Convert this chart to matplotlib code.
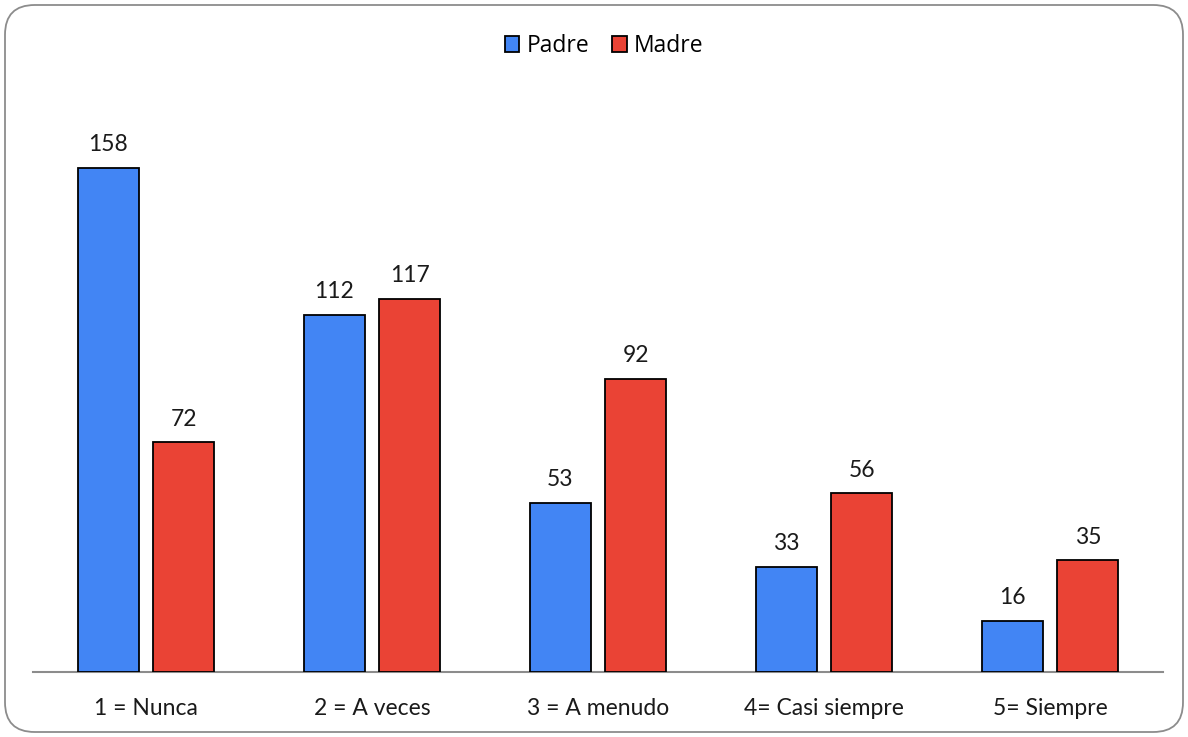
import numpy as np
import matplotlib
matplotlib.use('Agg')
import matplotlib.pyplot as plt
from matplotlib.patches import FancyBboxPatch, Patch

# Data:
categories = ['1 = Nunca', '2 = A veces', '3 = A menudo', '4= Casi siempre', '5= Siempre']
padre = [158, 112, 53, 33, 16]
madre = [72, 117, 92, 56, 35]

# Style:
Color_padre = "#4285F4"
Color_madre = "#EA4335"
Color_axis = "#8C8C8C"
plt.rcParams['font.family'] = ['Lato', 'DejaVu Sans']

W, H = 1188, 737
fig = plt.figure(figsize=(W/100, H/100), dpi=100)
ax = fig.add_axes([33/W, (H-672)/H, (1163-33)/W, (672-90)/H])

x = np.arange(len(categories))
w = 0.27
off = 0.168
b1 = ax.bar(x-off, padre, w, color=Color_padre, edgecolor='black', linewidth=1.3, zorder=3)
b2 = ax.bar(x+off, madre, w, color=Color_madre, edgecolor='black', linewidth=1.3, zorder=3)
for bars in (b1, b2):
    ax.bar_label(bars, padding=9, fontsize=16.5, color='#1a1a1a')

ax.set_xlim(-0.5, len(categories)-0.5)
ax.set_ylim(0, 582/3.19)
ax.set_yticks([])
ax.set_xticks(x)
ax.set_xticklabels(categories, fontsize=16.5, color='#1a1a1a')
ax.tick_params(axis='x', length=0, pad=19)
for s in ['top', 'right', 'left']:
    ax.spines[s].set_visible(False)
ax.spines['bottom'].set_color(Color_axis)
ax.spines['bottom'].set_linewidth(1.5)
ax.set_facecolor('none')

# Legend:
handles = [Patch(facecolor=Color_padre, edgecolor='black', linewidth=1.3, label='Padre'),
           Patch(facecolor=Color_madre, edgecolor='black', linewidth=1.3, label='Madre')]
fig.legend(handles=handles, loc='center', bbox_to_anchor=(604/W, 1-46/H), ncol=2, frameon=False,
           prop={'family': ['Open Sans', 'DejaVu Sans'], 'size': 16.5}, handlelength=0.65,
           handleheight=0.65, handletextpad=0.3, columnspacing=1.0)

# Rounded border:
border = FancyBboxPatch((5/W, 5/H), (W-10)/W, (H-10)/H, boxstyle='round,pad=0,rounding_size=0.025',
                        transform=fig.transFigure, facecolor='none', edgecolor=Color_axis, linewidth=1.3,
                        mutation_aspect=W/H)
fig.patches.append(border)

fig.savefig('out.png', dpi=100, facecolor='white')
